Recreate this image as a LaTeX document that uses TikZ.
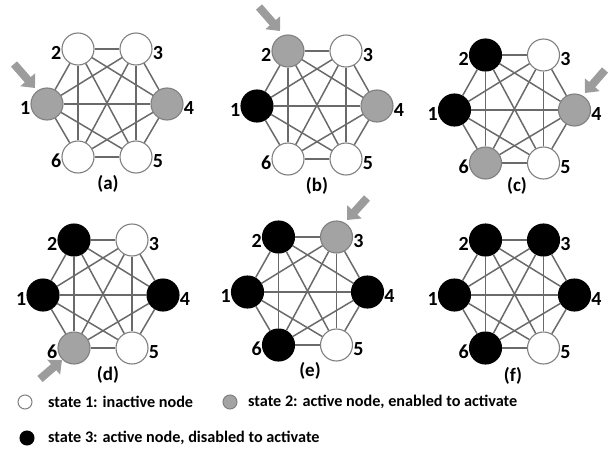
\documentclass[tikz,border=0pt]{standalone}
\usepackage{fontspec}
\setmainfont{Carlito}
\usetikzlibrary{arrows.meta}
\definecolor{edgegray}{HTML}{6A6A6A}
\definecolor{ringgray}{HTML}{808080}
\definecolor{fillgray}{HTML}{A3A3A3}
\definecolor{arrgray}{HTML}{9C9C9C}
\tikzset{
  vtx/.style={circle, minimum size=32pt, inner sep=0pt, line width=1.1pt},
  sone/.style={vtx, draw=ringgray, fill=white},
  stwo/.style={vtx, draw=ringgray, fill=fillgray},
  sthree/.style={vtx, draw=black, fill=black},
  numl/.style={font=\bfseries\fontsize{20}{20}\selectfont, text=black, inner sep=1pt, label distance=-1pt, yshift=-4pt},
  edge/.style={draw=edgegray, line width=1.5pt},
  capt/.style={font=\bfseries\fontsize{19}{19}\selectfont},
  bigarrow/.style={draw=arrgray, line width=8pt, -{Triangle[width=19pt,length=11pt]}},
  legc/.style={circle, minimum size=14pt, inner sep=0pt, line width=1pt},
  legt/.style={anchor=west, font=\bfseries\fontsize{16.2}{16.2}\selectfont, inner sep=0pt},
}
\newcommand\hexpanel[9]{%
  \node[#4, label={[numl]left:1}] (#11) at (#2-60,#3) {};
  \node[#5, label={[numl]left:2}] (#12) at (#2-29,#3-55) {};
  \node[#6, label={[numl]right:3}] (#13) at (#2+29,#3-55) {};
  \node[#7, label={[numl]right:4}] (#14) at (#2+60,#3) {};
  \node[#8, label={[numl]right:5}] (#15) at (#2+29,#3+53) {};
  \node[#9, label={[numl]left:6}] (#16) at (#2-29,#3+53) {};
  \foreach \i/\j in {1/2,2/3,3/4,4/5,5/6,6/1,1/3,1/4,1/5,2/4,2/5,2/6,3/5,3/6,4/6}
    \draw[edge] (#1\i) -- (#1\j);
}
\begin{document}
\begin{tikzpicture}[x=1pt,y=-1pt]
\useasboundingbox (0,0) rectangle (614,450);
% (a)
\hexpanel{a}{107}{104}{stwo}{sone}{sone}{stwo}{sone}{sone}
\node[capt] (capa) at (108,184) {(a)};
\coordinate (aT) at (14,64);
\coordinate (aH) at (35,88);
\draw[bigarrow] (aT) -- (aH);
% (b)
\hexpanel{b}{317}{106}{sthree}{stwo}{sone}{stwo}{sone}{sone}
\node[capt] (capb) at (317,186) {(b)};
\coordinate (bT) at (259,7);
\coordinate (bH) at (280,31);
\draw[bigarrow] (bT) -- (bH);
% (c)
\hexpanel{c}{514.5}{110}{sthree}{sthree}{sone}{stwo}{sone}{stwo}
\node[capt] (capc) at (517,186) {(c)};
\coordinate (cT) at (605,70);
\coordinate (cH) at (585,93);
\draw[bigarrow] (cT) -- (cH);
% (d)
\hexpanel{d}{103}{295}{sthree}{sthree}{sone}{sthree}{sone}{stwo}
\node[capt] (capd) at (108,375) {(d)};
\coordinate (dT) at (40,379);
\coordinate (dH) at (62,360);
\draw[bigarrow] (dT) -- (dH);
% (e)
\hexpanel{e}{307.5}{292}{sthree}{sthree}{stwo}{sthree}{sone}{sthree}
\node[capt] (cape) at (310,371) {(e)};
\coordinate (eT) at (367,198);
\coordinate (eH) at (347,220);
\draw[bigarrow] (eT) -- (eH);
% (f)
\hexpanel{f}{514.5}{295}{sthree}{sthree}{sthree}{sthree}{sone}{sthree}
\node[capt] (capf) at (513,376) {(f)};
% legend
\node[legc, draw=ringgray, fill=white] (l1) at (25,402) {};
\node[legt] (t1) at (48,402) {state 1: inactive node};
\node[legc, draw=ringgray, fill=fillgray] (l2) at (230,402) {};
\node[legt] (t2) at (248,402) {state 2: active node, enabled to activate};
\node[legc, draw=black, fill=black] (l3) at (27,438) {};
\node[legt] (t3) at (48,438) {state 3: active node, disabled to activate};
\end{tikzpicture}
\end{document}
